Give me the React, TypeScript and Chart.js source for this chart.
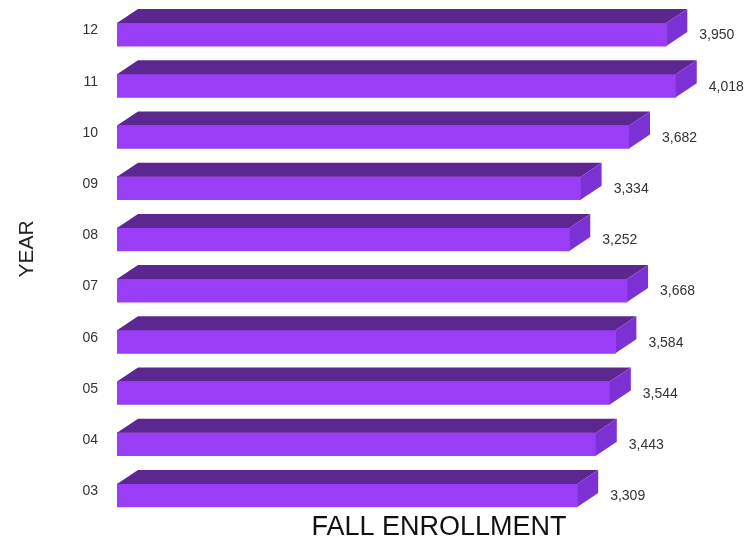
import React, { useEffect, useRef } from "react";
import { Chart, registerables } from "chart.js";

Chart.register(...registerables);

const years = ["12", "11", "10", "09", "08", "07", "06", "05", "04", "03"];
const enrollment = [3950, 4018, 3682, 3334, 3252, 3668, 3584, 3544, 3443, 3309];
const xTitle = "FALL ENROLLMENT";
const yTitle = "YEAR";

const FRONT = "#9a3df6";
const TOP = "#5d2792";
const SIDE = "#7c31d4";
const DX = 21;
const DY = 14;
const FONT = "'Liberation Sans', Arial, Helvetica, sans-serif";

const bar3d = {
  id: "bar3d",
  afterDatasetsDraw(chart: any) {
    const ctx = chart.ctx;
    const meta = chart.getDatasetMeta(0);
    ctx.save();
    meta.data.forEach((el: any, i: number) => {
      const { x, y, base, height } = el.getProps(["x", "y", "base", "height"], true);
      const top = y - height / 2;
      const bottom = y + height / 2;
      ctx.fillStyle = TOP;
      ctx.beginPath();
      ctx.moveTo(base, top);
      ctx.lineTo(base + DX, top - DY);
      ctx.lineTo(x + DX, top - DY);
      ctx.lineTo(x, top);
      ctx.closePath();
      ctx.fill();
      ctx.fillStyle = SIDE;
      ctx.beginPath();
      ctx.moveTo(x, top);
      ctx.lineTo(x + DX, top - DY);
      ctx.lineTo(x + DX, bottom - DY);
      ctx.lineTo(x, bottom);
      ctx.closePath();
      ctx.fill();
      ctx.fillStyle = "#333";
      ctx.font = `14px ${FONT}`;
      ctx.textAlign = "left";
      ctx.textBaseline = "middle";
      ctx.fillText(enrollment[i].toLocaleString("en-US"), x + DX + 12, y + 1);
    });
    // axis titles
    ctx.fillStyle = "#111";
    ctx.font = `27px ${FONT}`;
    ctx.textAlign = "center";
    ctx.textBaseline = "alphabetic";
    ctx.fillText(xTitle, 439, 535);
    ctx.fillStyle = "#222";
    ctx.font = `21px ${FONT}`;
    ctx.translate(33, 249);
    ctx.rotate(-Math.PI / 2);
    ctx.fillText(yTitle, 0, 0);
    ctx.restore();
  },
};

export default function App() {
  const ref = useRef<HTMLCanvasElement | null>(null);
  useEffect(() => {
    if (!ref.current) return;
    const chart = new Chart(ref.current, {
      type: "bar",
      data: {
        labels: years,
        datasets: [
          {
            data: enrollment,
            backgroundColor: FRONT,
            borderWidth: 0,
            barThickness: 23,
          },
        ],
      },
      options: {
        indexAxis: "y",
        responsive: false,
        animation: false,
        layout: { padding: { top: 9, bottom: 19, right: 8, left: 0 } },
        plugins: { legend: { display: false }, tooltip: { enabled: false } },
        scales: {
          x: { display: false, min: 0, max: 4480 },
          y: {
            grid: { display: false, drawTicks: true, tickLength: 19 },
            border: { display: false },
            ticks: {
              color: "#333",
              font: { size: 14, family: FONT },
              padding: 0,
              labelOffset: -4,
            },
            afterFit: (s: any) => {
              s.width = 117;
            },
          },
        },
      },
      plugins: [bar3d],
    });
    return () => chart.destroy();
  }, []);
  return (
    <div style={{ position: "fixed", left: 0, top: 0, width: 748, height: 540, background: "#fff" }}>
      <canvas ref={ref} width={748} height={540} />
    </div>
  );
}
